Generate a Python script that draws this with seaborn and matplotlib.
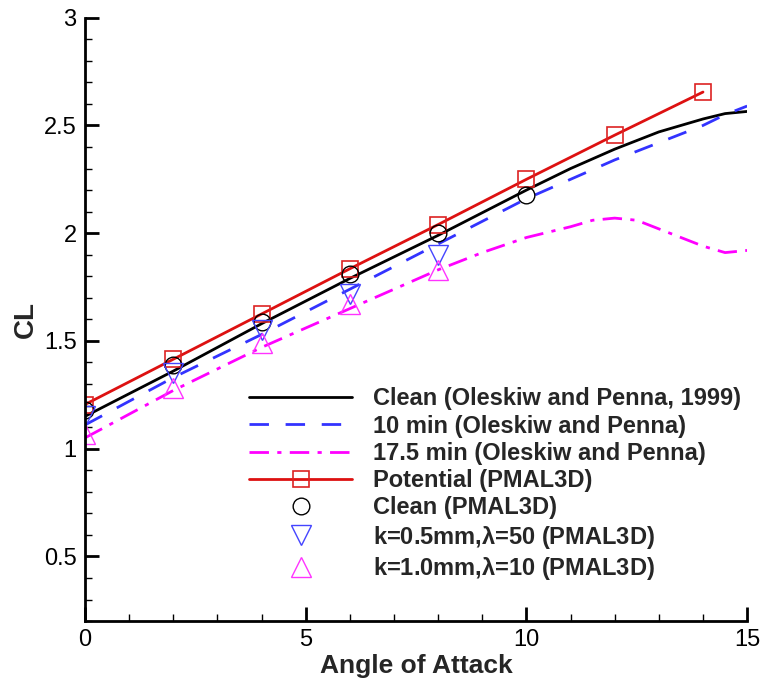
import numpy as np
import pandas as pd
import matplotlib
matplotlib.use("Agg")
import matplotlib.pyplot as plt
from matplotlib.ticker import MultipleLocator
import seaborn as sns

# ---- data ----
aoa_clean_exp = [0, 1, 2, 3, 4, 5, 6, 7, 8, 9, 10, 11, 12, 12.5, 13, 13.5, 14, 14.5, 15]
cl_clean_exp = [1.15, 1.255, 1.36, 1.47, 1.58, 1.685, 1.79, 1.89, 1.99, 2.095, 2.20, 2.30, 2.39, 2.43, 2.47, 2.50, 2.53, 2.555, 2.565]

aoa_10min = [0, 1, 2, 3, 4, 5, 6, 7, 8, 9, 10, 11, 12, 13, 14, 14.5, 15]
cl_10min = [1.11, 1.22, 1.33, 1.43, 1.53, 1.635, 1.74, 1.845, 1.95, 2.055, 2.16, 2.25, 2.34, 2.42, 2.50, 2.55, 2.59]

aoa_175min = [0, 1, 2, 3, 4, 5, 6, 7, 8, 9, 10, 11, 11.5, 12, 12.5, 13, 13.5, 14, 14.5, 15]
cl_175min = [1.05, 1.16, 1.27, 1.37, 1.47, 1.56, 1.65, 1.74, 1.83, 1.91, 1.98, 2.03, 2.06, 2.07, 2.06, 2.02, 1.98, 1.94, 1.91, 1.92]

aoa_pmal = [0, 2, 4, 6, 8, 10, 12, 14]
cl_potential = [1.205, 1.415, 1.625, 1.835, 2.04, 2.25, 2.455, 2.655]

aoa_clean_pmal = [0, 2, 4, 6, 8, 10]
cl_clean_pmal = [1.18, 1.39, 1.59, 1.81, 2.00, 2.175]

aoa_rough = [0, 2, 4, 6, 8]
cl_k05 = [1.15, 1.35, 1.55, 1.72, 1.90]
cl_k10 = [1.07, 1.28, 1.49, 1.67, 1.83]

labels = [
    "Clean (Oleskiw and Penna, 1999)",
    "10 min (Oleskiw and Penna)",
    "17.5 min (Oleskiw and Penna)",
    "Potential (PMAL3D)",
    "Clean (PMAL3D)",
    r"k=0.5mm,$\lambda$=50 (PMAL3D)",
    r"k=1.0mm,$\lambda$=10 (PMAL3D)",
]

sns.set_style("white")
plt.rcParams["font.family"] = ["Liberation Sans", "DejaVu Sans"]
plt.rcParams["mathtext.fontset"] = "custom"
plt.rcParams["mathtext.it"] = "Liberation Sans:bold"
plt.rcParams["mathtext.rm"] = "Liberation Sans:bold"

fig = plt.figure(figsize=(7.62, 6.81), dpi=100)
ax = fig.add_axes([0.1115, 0.088, 0.869, 0.886])

sns.lineplot(x=aoa_clean_exp, y=cl_clean_exp, ax=ax, color="black", lw=2, label=labels[0])
sns.lineplot(x=aoa_10min, y=cl_10min, ax=ax, color="#3333ff", lw=2, linestyle=(0, (7, 6)), label=labels[1])
sns.lineplot(x=aoa_175min, y=cl_175min, ax=ax, color="#ff00ff", lw=2, linestyle=(0, (7, 3, 1.5, 3)), label=labels[2])
sns.lineplot(x=aoa_pmal, y=cl_potential, ax=ax, color="#dd1111", lw=2, marker="s", markersize=11,
             markerfacecolor="none", markeredgecolor="#dd2222", markeredgewidth=1.2, label=labels[3])
sns.lineplot(x=aoa_clean_pmal, y=cl_clean_pmal, ax=ax, linestyle="none", marker="o", markersize=12,
             markerfacecolor="none", markeredgecolor="black", markeredgewidth=1.0, color="black", label=labels[4])
sns.lineplot(x=aoa_rough, y=cl_k05, ax=ax, linestyle="none", marker="v", markersize=15,
             markerfacecolor="none", markeredgecolor="#4444ff", markeredgewidth=1.0, color="#4444ff", label=labels[5])
sns.lineplot(x=aoa_rough, y=cl_k10, ax=ax, linestyle="none", marker="^", markersize=15,
             markerfacecolor="none", markeredgecolor="#ff33ff", markeredgewidth=1.0, color="#ff33ff", label=labels[6])

ax.set_xlim(0, 15)
ax.set_ylim(0.2, 3)
ax.xaxis.set_minor_locator(MultipleLocator(1))
ax.yaxis.set_minor_locator(MultipleLocator(0.1))
ax.set_xticks([0, 5, 10, 15])
ax.set_xticklabels(["0", "5", "10", "15"])
ax.set_yticks([0.5, 1, 1.5, 2, 2.5, 3])
ax.set_yticklabels(["0.5", "1", "1.5", "2", "2.5", "3"])

for s in ["top", "right"]:
    ax.spines[s].set_visible(False)
for s in ["left", "bottom"]:
    ax.spines[s].set_linewidth(2)
    ax.spines[s].set_color("black")

ax.tick_params(which="major", direction="in", length=10, width=2, labelsize=17, pad=6, colors="black")
ax.tick_params(which="minor", direction="in", length=5, width=1, colors="black")
ax.tick_params(axis="both", which="both", left=True, bottom=True, top=False, right=False)

ax.set_xlabel("Angle of Attack", fontsize=19, fontweight="bold")
ax.set_ylabel("CL", fontsize=20, fontweight="bold")
ax.xaxis.set_label_coords(0.5, -0.054)
ax.yaxis.set_label_coords(-0.07, 0.5)

leg = ax.legend(loc="lower right", bbox_to_anchor=(0.99, 0.065), frameon=False,
                prop={"size": 17, "weight": "bold"}, handlelength=4.4, handletextpad=0.85,
                labelspacing=0.18, borderaxespad=0.0, borderpad=0.0)

fig.savefig("out.png", dpi=100)
